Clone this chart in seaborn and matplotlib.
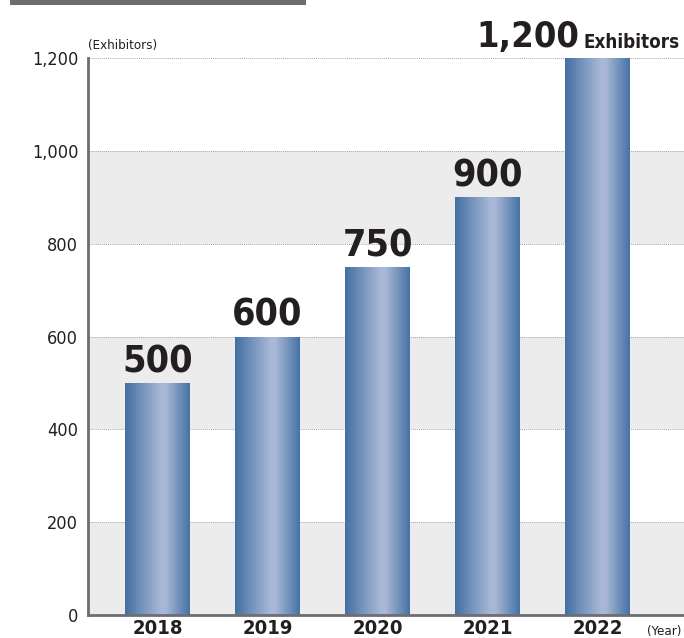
import numpy as np
import matplotlib
matplotlib.use("Agg")
import matplotlib.pyplot as plt
import matplotlib.patches as mpatches
from matplotlib.colors import LinearSegmentedColormap
import seaborn as sns

# Data
years = ["2018", "2019", "2020", "2021", "2022"]
exhibitors = [500, 600, 750, 900, 1200]
y_ticks = [0, 200, 400, 600, 800, 1000, 1200]
y_ticklabels = ["0", "200", "400", "600", "800", "1,000", "1,200"]

sns.set_style("white")
plt.rcParams["font.family"] = ["DejaVu Sans"]
plt.rcParams["font.stretch"] = "condensed"

text_col = "#231f20"
axis_col = "#6d6e71"

fig = plt.figure(figsize=(6.84, 6.38), dpi=100)
W, H = 684, 638
ax = fig.add_axes([88 / W, (H - 615) / H, (W - 88) / W, (615 - 58) / H])

sns.barplot(x=years, y=exhibitors, color="#4a76a8", width=0.59, ax=ax, zorder=2)
bars = list(ax.patches)

# alternating background bands
for i, lo in enumerate(y_ticks[:-1]):
    if i % 2 == 0:
        ax.axhspan(lo, lo + 200, color="#ebeceb", zorder=0, lw=0)
for t in y_ticks[1:]:
    ax.axhline(t, color="#a8a8a8", lw=0.7, ls=(0, (1, 1)), zorder=0.5)

# gradient fill on the bars
grad = LinearSegmentedColormap.from_list(
    "bar", [(0, "#4470a3"), (0.55, "#a9b8d6"), (0.62, "#a9b8d6"), (1, "#4672a5")])
g = np.linspace(0, 1, 256).reshape(1, -1)
for p in bars:
    x0, y0 = p.get_x(), p.get_y()
    w, h = p.get_width(), p.get_height()
    im = ax.imshow(g, cmap=grad, aspect="auto", extent=[x0, x0 + w, y0, y0 + h], zorder=2)
    im.set_clip_path(p)
    p.set_facecolor("none")
    p.set_edgecolor("none")

ax.set_xlim(-0.632, 4.786)
ax.set_ylim(0, 1200)
ax.set_yticks(y_ticks)
ax.set_yticklabels(y_ticklabels, fontsize=13, color=text_col)
ax.tick_params(axis="y", length=0, pad=7)
ax.tick_params(axis="x", length=0, pad=3)
for lbl in ax.get_xticklabels():
    lbl.set_fontsize(14.5)
    lbl.set_fontweight("bold")
    lbl.set_color(text_col)

for s in ["top", "right"]:
    ax.spines[s].set_visible(False)
for s in ["left", "bottom"]:
    ax.spines[s].set_color(axis_col)
    ax.spines[s].set_linewidth(2)
    ax.spines[s].set_zorder(3)

# value labels
for i, v in enumerate(exhibitors[:-1]):
    ax.annotate(str(v), (i, v), xytext=(0, 2), textcoords="offset points",
                ha="center", va="bottom", fontsize=27, fontweight="bold", color=text_col)
last = len(exhibitors) - 1
ax.annotate(f"{exhibitors[last]:,}", (last - 0.17, exhibitors[last]), xytext=(0, 3),
            textcoords="offset points", ha="right", va="bottom",
            fontsize=26, fontweight="bold", color=text_col, annotation_clip=False)
ax.annotate("Exhibitors", (last - 0.125, exhibitors[last]), xytext=(0, 4),
            textcoords="offset points", ha="left", va="bottom",
            fontsize=13.5, fontweight="bold", color=text_col, annotation_clip=False)

fig.text(88 / W, 1 - 46 / H, "(Exhibitors)", fontsize=9.5, color=text_col, va="center")
fig.text(647 / W, 1 - 631 / H, "(Year)", fontsize=9.5, color=text_col, va="center")

# header strip
fig.patches.append(mpatches.Rectangle((10 / W, 1 - 5 / H), 296 / W, 5 / H,
                                      transform=fig.transFigure, color=axis_col, lw=0))

fig.savefig("out.png", dpi=100)
